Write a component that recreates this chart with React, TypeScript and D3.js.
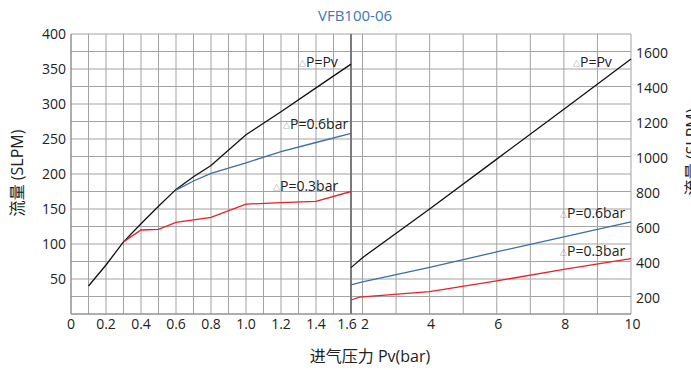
import React from "react";
import * as d3 from "d3";

const title = "VFB100-06";
const xLabel = "进气压力 Pv(bar)";
const yLabel = "流量 (SLPM)";

// Left panel (0 - 1.6 bar)
const leftPvX = [0.1, 0.2, 0.3, 0.4, 0.5, 0.6, 0.7, 0.8, 1.0, 1.2, 1.4, 1.6];
const leftPvY = [40, 70, 103, 129, 154, 178, 196, 212, 256, 289, 323, 357];
const left06X = [0.6, 0.7, 0.8, 1.0, 1.2, 1.4, 1.6];
const left06Y = [177, 190, 201, 216, 232, 245, 258];
const left03X = [0.3, 0.4, 0.5, 0.6, 0.8, 1.0, 1.2, 1.4, 1.6];
const left03Y = [103, 120, 121, 131, 138, 157, 159, 161, 175];

// Right panel (1.6 - 10 bar)
const rightPvX = [1.6, 2, 4, 6, 8, 10];
const rightPvY = [365, 422, 700, 985, 1270, 1557];
const right06X = [1.6, 2, 4, 6, 8, 10];
const right06Y = [266, 283, 366, 455, 541, 627];
const right03X = [1.6, 1.9, 2, 4, 6, 8, 10];
const right03Y = [180, 196, 198, 228, 289, 355, 416];

const leftXTicks = [0, 0.2, 0.4, 0.6, 0.8, 1.0, 1.2, 1.4, 1.6];
const leftXTickLabels = ["0", "0.2", "0.4", "0.6", "0.8", "1.0", "1.2", "1.4", "1.6"];
const leftYTicks = [50, 100, 150, 200, 250, 300, 350, 400];
const rightXTicks = [2, 4, 6, 8, 10];
const rightYTicks = [200, 400, 600, 800, 1000, 1200, 1400, 1600];

const seriesNames = ["P=Pv", "P=0.6bar", "P=0.3bar"];
const colors = ["#111111", "#3b6ea5", "#e8202a"];

const FONT = "'Open Sans', 'Noto Sans', 'Noto Sans CJK SC', sans-serif";

export default function App() {
  const W = 691, H = 370;
  const top = 34, bottom = 314;
  const lx = d3.scaleLinear().domain([0, 1.6]).range([71, 351]);
  const ly = d3.scaleLinear().domain([0, 400]).range([bottom, top]);
  const rx = d3.scaleLinear().domain([1.6, 2, 10]).range([351, 362.5, 631]);
  const ry = d3.scaleLinear().domain([100, 1700]).range([bottom, top]);

  const gridColor = "#a3a3a3";
  const leftVGrid = d3.range(0, 17).map((i) => i / 10);
  const hGrid = d3.range(0, 17).map((i) => i * 25);
  const rightVGrid = d3.range(2, 11);

  const lineL = (xs: number[], ys: number[]) =>
    d3.line<number>().x((_, i) => lx(xs[i])).y((d) => ly(d))(ys) || "";
  const lineR = (xs: number[], ys: number[]) =>
    d3.line<number>().x((_, i) => rx(xs[i])).y((d) => ry(d))(ys) || "";

  const label = (x: number, y: number, name: string) => (
    <text x={x} y={y} fontFamily={FONT} fontSize={14} fill="#222">
      <tspan fontSize={7} fill="#555" dy={-1.5}>△</tspan>
      <tspan dy={1.5}>{name}</tspan>
    </text>
  );

  return (
    <svg width={W} height={H} style={{ position: "absolute", left: 0, top: 0, background: "#fff" }}>
      <text x={355} y={21} textAnchor="middle" fontFamily={FONT} fontSize={15} fill="#3a78b8">
        {title}
      </text>

      {/* grid */}
      {leftVGrid.map((v) => (
        <line key={"lv" + v} x1={lx(v)} x2={lx(v)} y1={top} y2={bottom} stroke={gridColor} strokeWidth={1} />
      ))}
      {hGrid.map((v) => (
        <line key={"h" + v} x1={71} x2={631} y1={ly(v)} y2={ly(v)} stroke={gridColor} strokeWidth={1} />
      ))}
      {rightVGrid.map((v) => (
        <line key={"rv" + v} x1={rx(v)} x2={rx(v)} y1={top} y2={bottom} stroke={gridColor} strokeWidth={1} />
      ))}
      <line x1={351} x2={351} y1={top} y2={bottom} stroke="#7a7a7a" strokeWidth={2} />
      <line x1={71} x2={71} y1={top} y2={bottom} stroke="#8a8a8a" strokeWidth={1} />
      <line x1={71} x2={631} y1={bottom} y2={bottom} stroke="#8a8a8a" strokeWidth={1} />

      {/* lines */}
      <path d={lineL(leftPvX, leftPvY)} fill="none" stroke={colors[0]} strokeWidth={1.3} />
      <path d={lineL(left06X, left06Y)} fill="none" stroke={colors[1]} strokeWidth={1.3} />
      <path d={lineL(left03X, left03Y)} fill="none" stroke={colors[2]} strokeWidth={1.3} />
      <path d={lineR(rightPvX, rightPvY)} fill="none" stroke={colors[0]} strokeWidth={1.3} />
      <path d={lineR(right06X, right06Y)} fill="none" stroke={colors[1]} strokeWidth={1.3} />
      <path d={lineR(right03X, right03Y)} fill="none" stroke={colors[2]} strokeWidth={1.3} />

      {/* series labels */}
      {label(299, 67, seriesNames[0])}
      {label(283, 129, seriesNames[1])}
      {label(273, 191, seriesNames[2])}
      {label(573, 67, seriesNames[0])}
      {label(560, 218, seriesNames[1])}
      {label(560, 256, seriesNames[2])}

      {/* left y ticks */}
      {leftYTicks.map((v) => (
        <text key={"ly" + v} x={66} y={ly(v) + 5} textAnchor="end" fontFamily={FONT} fontSize={14} fill="#222">
          {v}
        </text>
      ))}
      {/* right y ticks */}
      {rightYTicks.map((v) => (
        <text key={"ry" + v} x={636} y={ry(v) + 6.5} textAnchor="start" fontFamily={FONT} fontSize={14} fill="#222">
          {v}
        </text>
      ))}
      {/* x ticks */}
      {leftXTicks.map((v, i) => (
        <text key={"lx" + v} x={v === 1.6 ? lx(v) - 4 : lx(v)} y={329} textAnchor="middle" fontFamily={FONT} fontSize={14} fill="#222">
          {leftXTickLabels[i]}
        </text>
      ))}
      {rightXTicks.map((v) => (
        <text key={"rx" + v} x={rx(v) + (v === 2 ? 2.5 : 1.5)} y={329} textAnchor="middle" fontFamily={FONT} fontSize={14} fill="#222">
          {v}
        </text>
      ))}

      <text x={370} y={362} textAnchor="middle" fontFamily={FONT} fontSize={16} fill="#222">
        {xLabel}
      </text>
      <text transform="translate(23,173) rotate(-90)" textAnchor="middle" fontFamily={FONT} fontSize={16} fill="#222">
        {yLabel}
      </text>
      <text transform="translate(698,152) rotate(-90)" textAnchor="middle" fontFamily={FONT} fontSize={16} fill="#222">
        {yLabel}
      </text>
    </svg>
  );
}
